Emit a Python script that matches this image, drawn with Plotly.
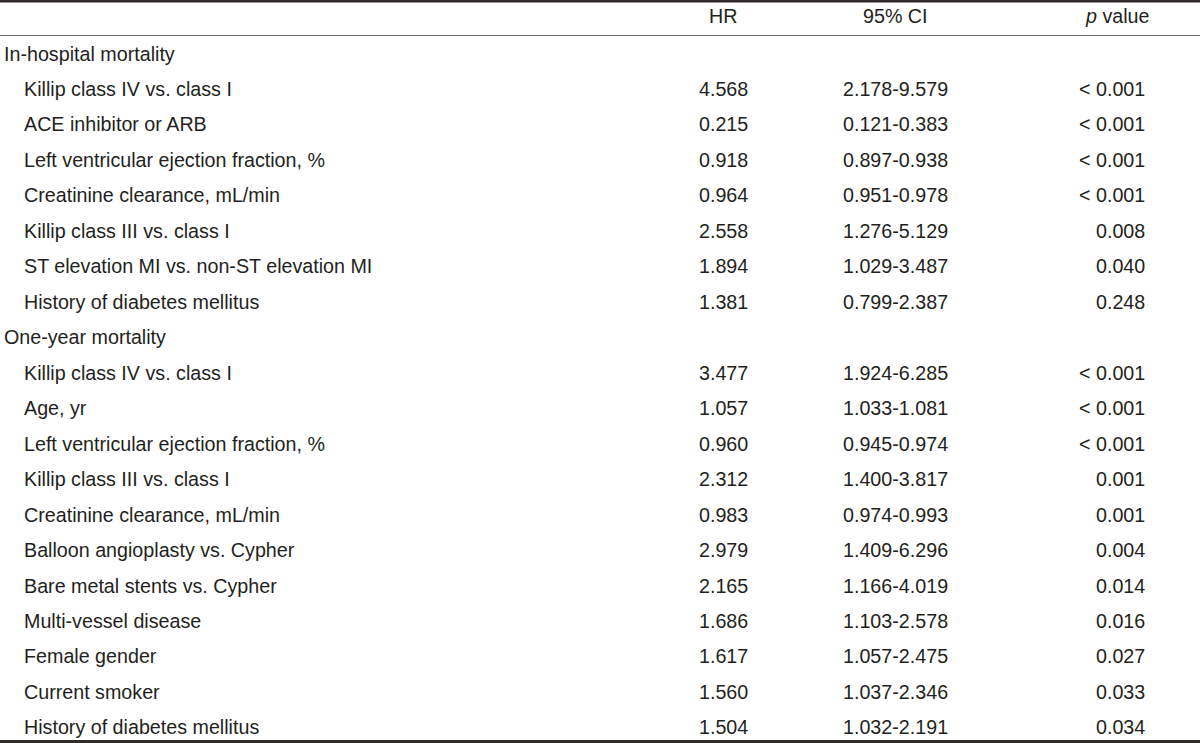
import plotly.graph_objects as go

# ---------------- data ----------------
columns = ["HR", "95% CI", "<i>p</i> value"]

section_titles = ["In-hospital mortality", "One-year mortality"]

in_hosp_labels = [
    "Killip class IV vs. class I",
    "ACE inhibitor or ARB",
    "Left ventricular ejection fraction, %",
    "Creatinine clearance, mL/min",
    "Killip class III vs. class I",
    "ST elevation MI vs. non-ST elevation MI",
    "History of diabetes mellitus",
]
in_hosp_hr = [4.568, 0.215, 0.918, 0.964, 2.558, 1.894, 1.381]
in_hosp_ci_low = [2.178, 0.121, 0.897, 0.951, 1.276, 1.029, 0.799]
in_hosp_ci_high = [9.579, 0.383, 0.938, 0.978, 5.129, 3.487, 2.387]
in_hosp_p = ["< 0.001", "< 0.001", "< 0.001", "< 0.001", "0.008", "0.040", "0.248"]

one_year_labels = [
    "Killip class IV vs. class I",
    "Age, yr",
    "Left ventricular ejection fraction, %",
    "Killip class III vs. class I",
    "Creatinine clearance, mL/min",
    "Balloon angioplasty vs. Cypher",
    "Bare metal stents vs. Cypher",
    "Multi-vessel disease",
    "Female gender",
    "Current smoker",
    "History of diabetes mellitus",
]
one_year_hr = [3.477, 1.057, 0.960, 2.312, 0.983, 2.979, 2.165, 1.686, 1.617, 1.560, 1.504]
one_year_ci_low = [1.924, 1.033, 0.945, 1.400, 0.974, 1.409, 1.166, 1.103, 1.057, 1.037, 1.032]
one_year_ci_high = [6.285, 1.081, 0.974, 3.817, 0.993, 6.296, 4.019, 2.578, 2.475, 2.346, 2.191]
one_year_p = ["< 0.001", "< 0.001", "< 0.001", "0.001", "0.001", "0.004", "0.014",
              "0.016", "0.027", "0.033", "0.034"]

# ---------------- layout / style ----------------
W, H = 1200, 743
FONT = "Liberation Sans, Arial, Helvetica, sans-serif"
FS = 19.7
TXT = "#231f20"

first_row_y = 53.5
row_step = 35.47
header_y = 15.5
x_section = 2
x_item = 22
x_hr = 723
x_ci = 895
x_p_right = 1147
x_p_head = 1117

sections = [
    (section_titles[0], in_hosp_labels, in_hosp_hr, in_hosp_ci_low, in_hosp_ci_high, in_hosp_p),
    (section_titles[1], one_year_labels, one_year_hr, one_year_ci_low, one_year_ci_high, one_year_p),
]

ann = []


def add(text, x, y, xanchor):
    ann.append(dict(text=text, x=x, y=y, xref="x", yref="y", xanchor=xanchor,
                    yanchor="middle", showarrow=False,
                    font=dict(family=FONT, size=FS, color=TXT)))


# header
add(columns[0], x_hr, header_y, "center")
add(columns[1], x_ci, header_y, "center")
add(columns[2], x_p_head, header_y, "center")

row = 0
for title, labels, hr, lo, hi, p in sections:
    y = first_row_y + row * row_step
    add(title, x_section, y, "left")
    row += 1
    for i in range(len(labels)):
        y = first_row_y + row * row_step
        add(labels[i], x_item, y, "left")
        add(f"{hr[i]:.3f}", x_hr, y, "center")
        add(f"{lo[i]:.3f}-{hi[i]:.3f}", x_ci, y, "center")
        add(p[i], x_p_right, y, "right")
        row += 1

shapes = [
    dict(type="line", xref="x", yref="y", x0=0, x1=W, y0=1.2, y1=1.2,
         line=dict(color="#302b29", width=2.5)),
    dict(type="line", xref="x", yref="y", x0=0, x1=W, y0=35.5, y1=35.5,
         line=dict(color="#6e6a68", width=1.2)),
    dict(type="line", xref="x", yref="y", x0=0, x1=W, y0=741.5, y1=741.5,
         line=dict(color="#302b29", width=3)),
]

fig = go.Figure()
fig.add_trace(go.Scatter(x=[0, W], y=[0, H], mode="markers",
                         marker=dict(opacity=0), hoverinfo="skip", showlegend=False))
fig.update_layout(
    width=W, height=H,
    margin=dict(l=0, r=0, t=0, b=0),
    paper_bgcolor="white", plot_bgcolor="white",
    xaxis=dict(range=[0, W], visible=False, fixedrange=True),
    yaxis=dict(range=[H, 0], visible=False, fixedrange=True),
    annotations=ann,
    shapes=shapes,
    showlegend=False,
)
fig.write_html(
    "out.html",
    config={"displayModeBar": False},
    post_script="document.body.style.margin='0';document.body.style.overflow='hidden';",
)
